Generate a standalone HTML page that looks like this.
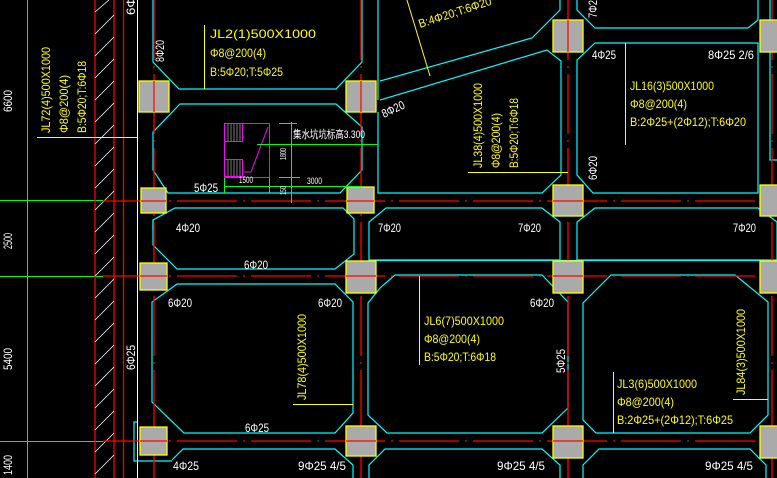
<!DOCTYPE html>
<html><head><meta charset="utf-8"><style>
html,body{margin:0;padding:0;background:#000;}
svg{display:block;}
text{font-family:"Liberation Sans","Noto Sans CJK SC",sans-serif;font-size:12px;}
.w{fill:#fff;}
.y{fill:#ff0;}
</style></head><body>
<svg width="777" height="478" viewBox="0 0 777 478" xmlns="http://www.w3.org/2000/svg">
<rect width="777" height="478" fill="#000"/>
<!-- green axis lines -->
<g stroke="#0f0" stroke-width="1" fill="none">
<line x1="27.5" y1="0" x2="27.5" y2="478"/>
<line x1="0" y1="200.5" x2="103" y2="200.5"/>
<line x1="0" y1="276.5" x2="103" y2="276.5"/>
<line x1="0" y1="441.5" x2="103" y2="441.5"/>
</g>
<!-- left red lines and hatch -->
<g stroke="#f00" stroke-width="1.3">
<line x1="95" y1="0" x2="95" y2="478"/>
<line x1="114" y1="0" x2="114" y2="478"/>
<line x1="123.5" y1="0" x2="123.5" y2="478"/>
</g>
<g stroke="#fff" stroke-width="0.8">
<line x1="95" y1="12" x2="109" y2="0"/>
<line x1="95" y1="34" x2="114" y2="15"/>
<line x1="95" y1="56" x2="114" y2="37"/>
<line x1="95" y1="78" x2="114" y2="59"/>
<line x1="95" y1="100" x2="114" y2="81"/>
<line x1="95" y1="122" x2="114" y2="103"/>
<line x1="95" y1="144" x2="114" y2="125"/>
<line x1="95" y1="166" x2="114" y2="147"/>
<line x1="95" y1="188" x2="114" y2="169"/>
<line x1="95" y1="210" x2="114" y2="191"/>
<line x1="95" y1="232" x2="114" y2="213"/>
<line x1="95" y1="254" x2="114" y2="235"/>
<line x1="95" y1="276" x2="114" y2="257"/>
<line x1="95" y1="298" x2="114" y2="279"/>
<line x1="95" y1="320" x2="114" y2="301"/>
<line x1="95" y1="342" x2="114" y2="323"/>
<line x1="95" y1="364" x2="114" y2="345"/>
<line x1="95" y1="386" x2="114" y2="367"/>
<line x1="95" y1="408" x2="114" y2="389"/>
<line x1="95" y1="430" x2="114" y2="411"/>
<line x1="95" y1="452" x2="114" y2="433"/>
<line x1="95" y1="474" x2="114" y2="455"/>
</g>
<!-- white wall line -->
<line x1="137.5" y1="0" x2="137.5" y2="478" stroke="#fff" stroke-width="1"/>
<!-- cyan beam outlines -->
<g stroke="#0ff" stroke-width="1.2" fill="none">
<polyline points="153,0 153,62 179,89 336,89 362,62 362,0"/>
<polygon points="180,104 336,104 362,127 362,170 340,193 168,193 153,170 153,132"/>
<polygon points="175,208 343,208 354,219 354,254 335,269 177,269 153,245 153,220"/>
<polyline points="153,230 153,220"/>
<polygon points="177,284 335,284 353,302 353,413 335,433 184,433 152,402 152,302"/>
<polyline points="172,460 183,449 335,449 353,465 353,478"/>
<polyline points="137,422 134,422 134,461 172,461"/>
<polyline points="378,0 378,100"/>
<polyline points="380,81 532,38 560,10 560,0"/>
<polyline points="380,100 547,50 561,61 561,175 542,193 378,193 378,112"/>
<polygon points="386,208 542,208 560,222 560,260 369,260 369,222"/>
<line x1="369" y1="260.5" x2="777" y2="260.5"/>
<polygon points="395,275 542,275 568,302 568,408 542,433 387,433 368,415 368,303 380,288"/>
<polyline points="369,478 369,465 385,449 542,449 560,465 560,478"/>
<polyline points="577,0 577,10 595,28 748,28 758,20 758,0"/>
<polygon points="595,43 758,43 758,193 593,193 577,175 577,60"/>
<polygon points="595,208 758,208 777,222 777,260 577,260 577,222"/>
<polyline points="777,160 770,160 770,0"/>
<polygon points="611,275 735,275 768,302 768,415 750,433 596,433 583,420 583,303"/>
<polyline points="583,478 583,465 599,449 750,449 766,465 766,478"/>
</g>
<!-- red dashed grid -->
<g stroke="#f00" stroke-width="1.3" fill="none">
<line x1="154" y1="0" x2="154" y2="478" stroke-dasharray="60,6,2,6"/>
<line x1="361" y1="0" x2="361" y2="478" stroke-dasharray="60,6,2,6"/>
<line x1="568" y1="0" x2="568" y2="478" stroke-dasharray="60,6,2,6"/>
<line x1="772" y1="0" x2="772" y2="478" stroke-dasharray="60,6,2,6"/>
<line x1="103" y1="201" x2="777" y2="201" stroke-dasharray="60,6,2,6"/>
<line x1="103" y1="276" x2="777" y2="276" stroke-dasharray="60,6,2,6"/>
<line x1="103" y1="441" x2="777" y2="441" stroke-dasharray="60,6,2,6"/>
</g>
<!-- columns -->
<g fill="#aaa" stroke="#ff0" stroke-width="1.3">
<rect x="139" y="81" width="30" height="31"/>
<rect x="346" y="81" width="30" height="31"/>
<rect x="553" y="20" width="30" height="32"/>
<rect x="760" y="20" width="20" height="32"/>
<rect x="141" y="188" width="25" height="25"/>
<rect x="347" y="187" width="27" height="26"/>
<rect x="553" y="185" width="30" height="31"/>
<rect x="760" y="185" width="20" height="31"/>
<rect x="140" y="263" width="27" height="27"/>
<rect x="346" y="261" width="30" height="32"/>
<rect x="553" y="261" width="30" height="32"/>
<rect x="760" y="261" width="20" height="32"/>
<rect x="140" y="427" width="27" height="28"/>
<rect x="346" y="426" width="30" height="30"/>
<rect x="553" y="426" width="30" height="32"/>
<rect x="760" y="426" width="20" height="32"/>
</g>
<!-- column crosshairs -->
<g stroke="#f00" stroke-width="1.2">
<line x1="154" y1="81" x2="154" y2="112"/><line x1="361" y1="81" x2="361" y2="112"/><line x1="568" y1="20" x2="568" y2="52"/>
<line x1="141" y1="201" x2="166" y2="201"/><line x1="347" y1="201" x2="374" y2="201"/><line x1="553" y1="201" x2="583" y2="201"/>
<line x1="140" y1="276" x2="167" y2="276"/><line x1="346" y1="276" x2="376" y2="276"/><line x1="553" y1="276" x2="583" y2="276"/>
<line x1="140" y1="441" x2="167" y2="441"/><line x1="346" y1="441" x2="376" y2="441"/><line x1="553" y1="441" x2="583" y2="441"/>
</g>
<!-- sump pit -->
<g stroke="#f0f" stroke-width="1" fill="none">
<rect x="224.5" y="123.5" width="45" height="54"/>
<rect x="224.5" y="123.5" width="18" height="18"/>
<rect x="224.5" y="159.5" width="18" height="17"/>
<polyline points="268,127 251,172 244,172"/>
</g>
<g stroke="#999" stroke-width="0.8">
<line x1="228" y1="124" x2="228" y2="141"/><line x1="231" y1="124" x2="231" y2="141"/><line x1="234" y1="124" x2="234" y2="141"/><line x1="237" y1="124" x2="237" y2="141"/><line x1="240" y1="124" x2="240" y2="141"/>
<line x1="228" y1="160" x2="228" y2="176"/><line x1="231" y1="160" x2="231" y2="176"/><line x1="234" y1="160" x2="234" y2="176"/><line x1="237" y1="160" x2="237" y2="176"/><line x1="240" y1="160" x2="240" y2="176"/>
</g>
<g stroke="#0f0" stroke-width="1" fill="none">
<line x1="279" y1="123.5" x2="297" y2="123.5"/>
<line x1="257" y1="144.5" x2="378" y2="144.5"/>
<line x1="291.5" y1="122" x2="291.5" y2="203"/>
<line x1="279" y1="177.5" x2="300" y2="177.5"/>
<line x1="224" y1="186.5" x2="362" y2="186.5"/>
<line x1="224.5" y1="178" x2="224.5" y2="193"/>
<line x1="269.5" y1="178" x2="269.5" y2="193"/>
</g>
<!-- yellow leader lines -->
<g stroke="#ff0" stroke-width="1">
<line x1="204.5" y1="25" x2="204.5" y2="89"/>
<line x1="37" y1="137.5" x2="137" y2="137.5"/>
<line x1="407" y1="0" x2="430" y2="76"/>
<line x1="468" y1="172.5" x2="568" y2="172.5"/>
<line x1="625.5" y1="43" x2="625.5" y2="145"/>
<line x1="293" y1="404.5" x2="353" y2="404.5"/>
<line x1="419.5" y1="276" x2="419.5" y2="365"/>
<line x1="613.5" y1="372" x2="613.5" y2="433"/>
<line x1="733" y1="399.5" x2="768" y2="399.5"/>
</g>
<!-- yellow text -->
<g class="y">
<text x="210" y="38" textLength="106" lengthAdjust="spacingAndGlyphs">JL2(1)500X1000</text>
<text x="210" y="57" textLength="56" lengthAdjust="spacingAndGlyphs">Φ8@200(4)</text>
<text x="210" y="76" textLength="73" lengthAdjust="spacingAndGlyphs">B:5Φ20;T:5Φ25</text>
<text transform="translate(50,133) rotate(-90)" textLength="86" lengthAdjust="spacingAndGlyphs">JL72(4)500X1000</text>
<text transform="translate(68,133) rotate(-90)" textLength="58" lengthAdjust="spacingAndGlyphs">Φ8@200(4)</text>
<text transform="translate(86,133) rotate(-90)" textLength="72" lengthAdjust="spacingAndGlyphs">B:5Φ20;T:6Φ18</text>
<text transform="translate(420,28) rotate(-18)" textLength="76" lengthAdjust="spacingAndGlyphs">B:4Φ20;T:6Φ20</text>
<text transform="translate(482,168) rotate(-90)" textLength="85" lengthAdjust="spacingAndGlyphs">JL38(4)500X1000</text>
<text transform="translate(500,168) rotate(-90)" textLength="55" lengthAdjust="spacingAndGlyphs">Φ8@200(4)</text>
<text transform="translate(518,168) rotate(-90)" textLength="70" lengthAdjust="spacingAndGlyphs">B:5Φ20;T:6Φ18</text>
<text x="630" y="90" textLength="84" lengthAdjust="spacingAndGlyphs">JL16(3)500X1000</text>
<text x="630" y="108" textLength="57" lengthAdjust="spacingAndGlyphs">Φ8@200(4)</text>
<text x="630" y="126" textLength="116" lengthAdjust="spacingAndGlyphs">B:2Φ25+(2Φ12);T:6Φ20</text>
<text transform="translate(306,400) rotate(-90)" textLength="86" lengthAdjust="spacingAndGlyphs">JL78(4)500X1000</text>
<text x="424" y="325" textLength="80" lengthAdjust="spacingAndGlyphs">JL6(7)500X1000</text>
<text x="424" y="343" textLength="56" lengthAdjust="spacingAndGlyphs">Φ8@200(4)</text>
<text x="424" y="361" textLength="72" lengthAdjust="spacingAndGlyphs">B:5Φ20;T:6Φ18</text>
<text x="617" y="388" textLength="80" lengthAdjust="spacingAndGlyphs">JL3(6)500X1000</text>
<text x="617" y="406" textLength="57" lengthAdjust="spacingAndGlyphs">Φ8@200(4)</text>
<text x="617" y="424" textLength="116" lengthAdjust="spacingAndGlyphs">B:2Φ25+(2Φ12);T:6Φ25</text>
<text transform="translate(745,395) rotate(-90)" textLength="86" lengthAdjust="spacingAndGlyphs">JL84(3)500X1000</text>
</g>
<!-- white text -->
<g class="w">
<text transform="translate(12,112) rotate(-90)" textLength="22" lengthAdjust="spacingAndGlyphs">6600</text>
<text transform="translate(12,249) rotate(-90)" textLength="16" lengthAdjust="spacingAndGlyphs">2500</text>
<text transform="translate(12,370) rotate(-90)" textLength="22" lengthAdjust="spacingAndGlyphs">5400</text>
<text transform="translate(12,475) rotate(-90)" textLength="20" lengthAdjust="spacingAndGlyphs">1400</text>
<text transform="translate(135,15) rotate(-90)" textLength="18" lengthAdjust="spacingAndGlyphs">6Φ</text>
<text transform="translate(164,62) rotate(-90)" textLength="22" lengthAdjust="spacingAndGlyphs">8Φ20</text>
<text x="293" y="138" textLength="72" lengthAdjust="spacingAndGlyphs" style="font-size:11px">集水坑坑标高3.300</text>
<text transform="translate(286,160) rotate(-90)" textLength="12" lengthAdjust="spacingAndGlyphs" style="font-size:8px">1800</text>
<text transform="translate(286,195) rotate(-90)" textLength="9" lengthAdjust="spacingAndGlyphs" style="font-size:8px">150</text>
<text x="239" y="183" textLength="14" lengthAdjust="spacingAndGlyphs" style="font-size:9px">1500</text>
<text x="307" y="184" textLength="15" lengthAdjust="spacingAndGlyphs" style="font-size:9px">3000</text>
<text x="194" y="192" textLength="24" lengthAdjust="spacingAndGlyphs">5Φ25</text>
<text x="176" y="232" textLength="24" lengthAdjust="spacingAndGlyphs">4Φ20</text>
<text transform="translate(384,118) rotate(-25)" textLength="24" lengthAdjust="spacingAndGlyphs">8Φ20</text>
<text transform="translate(597,18) rotate(-90)" textLength="18" lengthAdjust="spacingAndGlyphs">7Φ2</text>
<text x="592" y="59" textLength="24" lengthAdjust="spacingAndGlyphs">4Φ25</text>
<text x="708" y="59" textLength="46" lengthAdjust="spacingAndGlyphs">8Φ25 2/6</text>
<text transform="translate(597,180) rotate(-90)" textLength="24" lengthAdjust="spacingAndGlyphs">6Φ20</text>
<text x="378" y="232" textLength="23" lengthAdjust="spacingAndGlyphs">7Φ20</text>
<text x="518" y="232" textLength="23" lengthAdjust="spacingAndGlyphs">7Φ20</text>
<text x="733" y="232" textLength="23" lengthAdjust="spacingAndGlyphs">7Φ20</text>
<text x="244" y="269" textLength="24" lengthAdjust="spacingAndGlyphs">6Φ20</text>
<text x="168" y="307" textLength="24" lengthAdjust="spacingAndGlyphs">6Φ20</text>
<text x="318" y="307" textLength="24" lengthAdjust="spacingAndGlyphs">6Φ20</text>
<text x="530" y="307" textLength="24" lengthAdjust="spacingAndGlyphs">6Φ20</text>
<text transform="translate(135,370) rotate(-90)" textLength="25" lengthAdjust="spacingAndGlyphs">6Φ25</text>
<text transform="translate(565,373) rotate(-90)" textLength="24" lengthAdjust="spacingAndGlyphs">5Φ25</text>
<text x="245" y="432" textLength="24" lengthAdjust="spacingAndGlyphs">6Φ25</text>
<text x="173" y="470" textLength="26" lengthAdjust="spacingAndGlyphs">4Φ25</text>
<text x="298" y="470" textLength="48" lengthAdjust="spacingAndGlyphs">9Φ25 4/5</text>
<text x="497" y="470" textLength="48" lengthAdjust="spacingAndGlyphs">9Φ25 4/5</text>
<text x="705" y="470" textLength="48" lengthAdjust="spacingAndGlyphs">9Φ25 4/5</text>
</g>
</svg>
</body></html>
